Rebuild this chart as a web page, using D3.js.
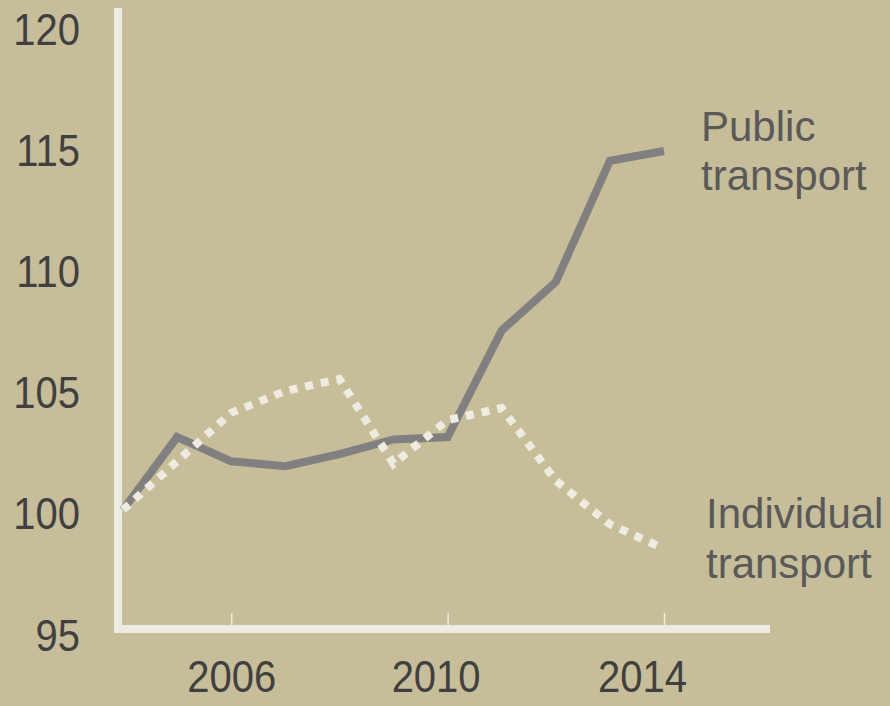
<!DOCTYPE html>
<html>
<head>
<meta charset="UTF-8">
<title>Public vs individual transport</title>
<script src="https://d3js.org/d3.v7.min.js"></script>
<style>
  body {margin: 0; background: #c5be98;}
  svg {display: block; font-family: Arial, "Liberation Sans", sans-serif;}
  .tick text {fill: #404040;}
  .label {fill: #595959; font-size: 42px;}
</style>
</head>
<body>
<div id="chart"></div>
<script>
// index values, 2004 = 100
var years = [2004, 2005, 2006, 2007, 2008, 2009, 2010, 2011, 2012, 2013, 2014];
var publicTransport = [100, 103.0, 102.0, 101.8, 102.3, 102.9, 103.0, 107.4, 109.4, 114.4, 114.8];
var individualTransport = [100, 102.0, 104.0, 104.9, 105.4, 101.9, 103.7, 104.2, 101.2, 99.4, 98.4];
var xTicks = [2006, 2010, 2014];
var yTicks = [95, 100, 105, 110, 115, 120];

var width = 890, height = 706;
var bg = "#c5be98", axisCol = "#eeebe0";

var svg = d3.select("#chart").append("svg")
    .attr("width", width)
    .attr("height", height);

svg.append("rect").attr("width", width).attr("height", height).attr("fill", bg);

var x = d3.scaleLinear().domain([2004, 2014]).range([123, 664]);
var y = d3.scaleLinear().domain([95, 120]).range([631, 25]);

// y axis labels
var yAxis = svg.append("g")
    .attr("transform", "translate(118,0)")
    .call(d3.axisLeft(y).tickValues(yTicks).tickSize(0).tickPadding(38).tickFormat(d3.format("d")));
yAxis.select(".domain").remove();
yAxis.selectAll("text")
    .attr("font-size", 40)
    .attr("dy", null)
    .attr("transform", "translate(0,19) scale(1,1.1)");

// x axis ticks + labels
var xAxis = svg.append("g")
    .attr("transform", "translate(0,625)")
    .call(d3.axisBottom(x).tickValues(xTicks).tickSize(-12).tickPadding(0).tickFormat(d3.format("d")));
xAxis.select(".domain").remove();
xAxis.selectAll("line").attr("stroke", axisCol).attr("stroke-width", 1.5);
xAxis.selectAll("text")
    .attr("font-size", 40)
    .attr("dy", null)
    .attr("y", 0)
    .attr("transform", function(d) { return "translate(" + (d == 2006 ? 0 : d == 2010 ? -12 : -22) + ",67) scale(1,1.1)"; });

// axis lines
svg.append("line")
    .attr("x1", 118).attr("x2", 118).attr("y1", 8).attr("y2", 633)
    .attr("stroke", axisCol).attr("stroke-width", 8);
svg.append("line")
    .attr("x1", 114).attr("x2", 770).attr("y1", 629).attr("y2", 629)
    .attr("stroke", axisCol).attr("stroke-width", 8);

var line = d3.line()
    .x(function(d, i) { return x(years[i]); })
    .y(function(d) { return y(d); });

svg.append("path")
    .datum(publicTransport)
    .attr("d", line)
    .attr("fill", "none")
    .attr("stroke", "#808080")
    .attr("stroke-width", 8)
    .attr("stroke-linejoin", "miter");

svg.append("path")
    .datum(individualTransport)
    .attr("d", line)
    .attr("fill", "none")
    .attr("stroke", axisCol)
    .attr("stroke-width", 8)
    .attr("stroke-dasharray", "8 8");

// series labels
var pub = svg.append("text").attr("class", "label").attr("x", 701).attr("y", 141);
pub.append("tspan").attr("x", 701).text("Public");
pub.append("tspan").attr("x", 701).attr("dy", 49).text("transport");

var ind = svg.append("text").attr("class", "label").attr("x", 706).attr("y", 528);
ind.append("tspan").attr("x", 706).text("Individual");
ind.append("tspan").attr("x", 706).attr("dy", 50).text("transport");
</script>
</body>
</html>
